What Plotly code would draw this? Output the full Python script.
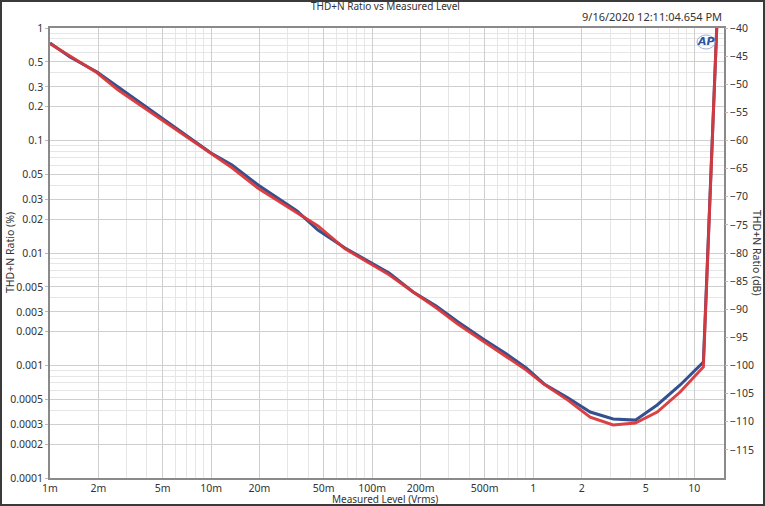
import plotly.graph_objects as go

# Measured level (Vrms)
level = [0.001, 0.00133, 0.00196, 0.00265, 0.01, 0.0135, 0.0196, 0.0342, 0.0461,
         0.0679, 0.0972, 0.1276, 0.1798, 0.250, 0.342, 0.489, 0.680, 0.906,
         1.17, 1.65, 2.26, 3.14, 4.31, 5.89, 8.18, 11.4, 13.9]
# THD+N ratio (%)
thdn_blue = [0.736, 0.552, 0.406, 0.299, 0.0774, 0.0606, 0.0402, 0.0236, 0.0160,
             0.01107, 0.00832, 0.00664, 0.0045, 0.00338, 0.00244, 0.00172, 0.00127, 0.00095,
             0.000685, 0.000514, 0.000386, 0.000335, 0.000327, 0.000446, 0.000671, 0.00107, 1.3]
thdn_red = [0.725, 0.56, 0.40, 0.281, 0.0765, 0.0572, 0.0376, 0.0228, 0.0174,
            0.0109, 0.0080, 0.0064, 0.0045, 0.00326, 0.00233, 0.00165, 0.00120, 0.00091,
            0.000680, 0.000490, 0.000348, 0.000296, 0.000308, 0.000386, 0.000581, 0.00097, 1.3]

x_tickvals = [0.001, 0.002, 0.005, 0.01, 0.02, 0.05, 0.1, 0.2, 0.5, 1, 2, 5, 10]
x_ticktext = ["1m", "2m", "5m", "10m", "20m", "50m", "100m", "200m", "500m", "1", "2", "5", "10"]
y_tickvals = [1, 0.5, 0.3, 0.2, 0.1, 0.05, 0.03, 0.02, 0.01, 0.005, 0.003, 0.002,
              0.001, 0.0005, 0.0003, 0.0002, 0.0001]
y_ticktext = ["1", "0.5", "0.3", "0.2", "0.1", "0.05", "0.03", "0.02", "0.01", "0.005", "0.003",
              "0.002", "0.001", "0.0005", "0.0003", "0.0002", "0.0001"]
db_ticks = [-40, -45, -50, -55, -60, -65, -70, -75, -80, -85, -90, -95, -100, -105, -110, -115]

x_minor = [m * 10 ** e for e in range(-3, 2) for m in (3, 4, 6, 7, 8, 9)]
y_minor = [m * 10 ** e for e in range(-4, 0) for m in (4, 6, 7, 8, 9)]

FONT = "Noto Sans"
W, H = 765, 506
L, R, T, B = 50, 41, 28, 28
pw, ph = W - L - R, H - T - B

fig = go.Figure()
fig.add_trace(go.Scatter(x=level, y=thdn_blue, mode="lines",
                         line=dict(color="#33508f", width=3), showlegend=False))
fig.add_trace(go.Scatter(x=level, y=thdn_red, mode="lines",
                         line=dict(color="#d9383b", width=3), opacity=0.95, showlegend=False))
# invisible trace to activate the dB axis
fig.add_trace(go.Scatter(x=[0.001], y=[-120], yaxis="y2", mode="markers",
                         marker=dict(opacity=0), showlegend=False, hoverinfo="skip"))

fig.update_layout(
    width=W, height=H,
    margin=dict(l=L, r=R, t=T, b=B, autoexpand=False),
    paper_bgcolor="white", plot_bgcolor="white",
    font=dict(family=FONT, size=11, color="#333333"),
    xaxis=dict(type="log", range=[-3, 1.185], automargin=False,
               tickvals=x_tickvals, ticktext=x_ticktext,
               showgrid=True, gridcolor="#cfcfcf", gridwidth=1,
               minor=dict(tickvals=x_minor, showgrid=True, gridcolor="#e6e6e6", gridwidth=1),
               showline=True, linecolor="#8a8a8a", linewidth=1.5, mirror=True,
               ticks="", ticklabelstandoff=0, tickfont=dict(size=10.5), zeroline=False),
    yaxis=dict(type="log", range=[-4, 0], automargin=False,
               tickvals=y_tickvals, ticktext=y_ticktext,
               showgrid=True, gridcolor="#cfcfcf", gridwidth=1,
               minor=dict(tickvals=y_minor, showgrid=True, gridcolor="#e6e6e6", gridwidth=1),
               showline=True, linecolor="#8a8a8a", linewidth=1.5, mirror=True,
               ticks="outside", ticklen=3, tickcolor="#bbbbbb",
               tickfont=dict(size=10.5), zeroline=False),
    yaxis2=dict(overlaying="y", side="right", range=[-120, -40], automargin=False,
                tickvals=db_ticks, showgrid=False, zeroline=False,
                ticks="outside", ticklen=3, tickcolor="#bbbbbb",
                tickfont=dict(size=10.5), showline=False),
    shapes=[dict(type="rect", xref="paper", yref="paper",
                 x0=(1 - L) / pw, x1=(W - 1 - L) / pw,
                 y0=(H - T - (H - 1)) / ph, y1=(H - T - 1) / ph,
                 line=dict(color="#3a3a3a", width=2), fillcolor="rgba(0,0,0,0)"),
            dict(type="circle", xref="paper", yref="paper",
                 x0=(697 - L) / pw, x1=(715 - L) / pw,
                 y0=(H - B - 49) / ph, y1=(H - B - 35) / ph,
                 line=dict(color="#9fb3d6", width=1), fillcolor="rgba(0,0,0,0)")],
    annotations=[
        dict(text="THD+N Ratio vs Measured Level", xref="paper", yref="paper",
             x=(385 - L) / pw, y=(H - B - 6) / ph, xanchor="center", yanchor="middle",
             showarrow=False, font=dict(size=10, color="#333333")),
        dict(text="9/16/2020 12:11:04.654 PM", xref="paper", yref="paper",
             x=(724 - L) / pw, y=(H - B - 17) / ph, xanchor="right", yanchor="middle",
             showarrow=False, font=dict(size=11, color="#333333")),
        dict(text="<b><i>AP</i></b>", xref="paper", yref="paper",
             x=(706 - L) / pw, y=(H - B - 42) / ph, xanchor="center", yanchor="middle",
             showarrow=False, font=dict(size=11, color="#2a55a5", family="DejaVu Sans")),
        dict(text="Measured Level (Vrms)", xref="paper", yref="paper",
             x=(385 - L) / pw, y=(H - B - 499.5) / ph, xanchor="center", yanchor="middle",
             showarrow=False, font=dict(size=10, color="#333333")),
        dict(text="THD+N Ratio (%)", xref="paper", yref="paper", textangle=-90,
             x=(10 - L) / pw, y=(H - B - 253) / ph, xanchor="center", yanchor="middle",
             showarrow=False, font=dict(size=10.5, color="#333333")),
        dict(text="THD+N Ratio (dB)", xref="paper", yref="paper", textangle=90,
             x=(757 - L) / pw, y=(H - B - 253) / ph, xanchor="center", yanchor="middle",
             showarrow=False, font=dict(size=10.5, color="#333333")),
    ],
)

fig.write_html("out.html", config={"displayModeBar": False},
               post_script="document.body.style.margin='0';document.body.style.overflow='hidden';")
